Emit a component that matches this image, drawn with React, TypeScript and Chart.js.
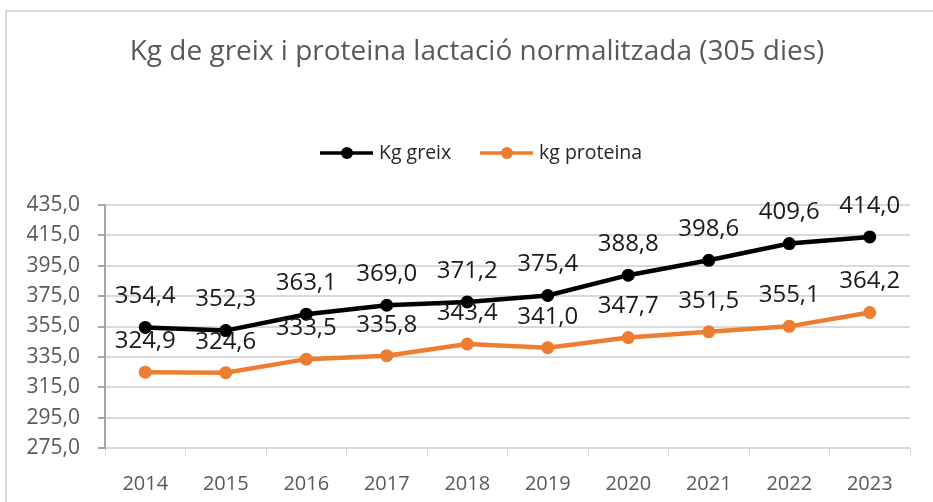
import React, { useEffect, useRef } from "react";
import { Chart, registerables } from "chart.js";

Chart.register(...registerables);

const TITLE = "Kg de greix i proteina lactació normalitzada (305 dies)";
const YEARS = ["2014", "2015", "2016", "2017", "2018", "2019", "2020", "2021", "2022", "2023"];
const GREIX = [354.4, 352.3, 363.1, 369.0, 371.2, 375.4, 388.8, 398.6, 409.6, 414.0];
const PROTEINA = [324.9, 324.6, 333.5, 335.8, 343.4, 341.0, 347.7, 351.5, 355.1, 364.2];
const SERIES_NAMES = ["Kg greix", "kg proteina"];
const SERIES_COLORS = ["#000000", "#ED7D31"];
const Y_MIN = 275;
const Y_MAX = 435;
const Y_STEP = 20;

const FONT = "'Open Sans', Lato, sans-serif";
const fmt = (v: number) => v.toFixed(1).replace(".", ",");

const framePlugin = {
  id: "frame",
  beforeDraw(chart: any) {
    const ctx = chart.ctx;
    ctx.save();
    ctx.fillStyle = "#ffffff";
    ctx.fillRect(0, 0, chart.width, chart.height);
    ctx.strokeStyle = "#d9d9d9";
    ctx.lineWidth = 2;
    ctx.beginPath();
    ctx.moveTo(6, chart.height);
    ctx.lineTo(6, 11);
    ctx.lineTo(chart.width, 11);
    ctx.stroke();
    ctx.restore();
  },
};

const labelsPlugin = {
  id: "valueLabels",
  afterDatasetsDraw(chart: any) {
    const ctx = chart.ctx;
    ctx.save();
    ctx.font = `24px ${FONT}`;
    ctx.fillStyle = "#1a1a1a";
    ctx.textAlign = "center";
    ctx.textBaseline = "middle";
    chart.data.datasets.forEach((ds: any, i: number) => {
      const meta = chart.getDatasetMeta(i);
      meta.data.forEach((el: any, j: number) => {
        ctx.fillText(fmt(ds.data[j]), el.x, el.y - 31);
      });
    });
    ctx.restore();
  },
};

const legendPlugin = {
  id: "customLegend",
  afterDraw(chart: any) {
    const ctx = chart.ctx;
    ctx.save();
    ctx.font = `19.5px ${FONT}`;
    ctx.textBaseline = "middle";
    ctx.textAlign = "left";
    const y = 153;
    const starts = [320, 480];
    SERIES_NAMES.forEach((name, i) => {
      const x0 = starts[i];
      ctx.strokeStyle = SERIES_COLORS[i];
      ctx.lineWidth = 3.5;
      ctx.beginPath();
      ctx.moveTo(x0, y);
      ctx.lineTo(x0 + 53, y);
      ctx.stroke();
      ctx.fillStyle = SERIES_COLORS[i];
      ctx.beginPath();
      ctx.arc(x0 + 27, y, 6, 0, Math.PI * 2);
      ctx.fill();
      ctx.fillStyle = "#262626";
      ctx.fillText(name, x0 + 59, y);
    });
    ctx.restore();
  },
};

export default function App() {
  const ref = useRef<HTMLCanvasElement | null>(null);
  useEffect(() => {
    if (!ref.current) return;
    const chart = new Chart(ref.current, {
      type: "line",
      data: {
        labels: YEARS,
        datasets: [
          {
            label: SERIES_NAMES[0],
            data: GREIX,
            borderColor: SERIES_COLORS[0],
            backgroundColor: SERIES_COLORS[0],
            borderWidth: 4.5,
            pointRadius: 6.5,
            pointHoverRadius: 6.5,
            pointBorderWidth: 0,
            tension: 0,
          },
          {
            label: SERIES_NAMES[1],
            data: PROTEINA,
            borderColor: SERIES_COLORS[1],
            backgroundColor: SERIES_COLORS[1],
            borderWidth: 4.5,
            pointRadius: 6.5,
            pointHoverRadius: 6.5,
            pointBorderWidth: 0,
            tension: 0,
          },
        ],
      },
      options: {
        responsive: false,
        animation: false,
        layout: { padding: { left: 21, right: 0, top: 0, bottom: 0 } },
        plugins: {
          legend: { display: false },
          tooltip: { enabled: false },
          title: {
            display: true,
            text: TITLE,
            color: "#595959",
            font: { family: FONT, size: 28, weight: "normal" },
            padding: { top: 35.2, bottom: 136.2 },
          },
        },
        scales: {
          x: {
            offset: true,
            grid: {
              offset: true,
              drawOnChartArea: false,
              drawTicks: true,
              tickLength: 8,
              color: "#d9d9d9",
              tickColor: "#d9d9d9",
            },
            border: { display: false },
            ticks: {
              color: "#595959",
              font: { family: FONT, size: 20 },
              padding: 16,
              maxRotation: 0,
            },
            afterFit(scale: any) {
              scale.height = 54;
            },
          },
          y: {
            min: Y_MIN,
            max: Y_MAX,
            grid: {
              color: "#d9d9d9",
              lineWidth: 2,
              tickLength: 7,
              tickColor: "#a6a6a6",
            },
            border: { display: true, color: "#a6a6a6", width: 2 },
            ticks: {
              stepSize: Y_STEP,
              color: "#595959",
              font: { family: FONT, size: 21 },
              padding: 18,
              callback: (v: any) => fmt(Number(v)),
            },
            afterFit(scale: any) {
              scale.width = 84;
            },
          },
          yRightSpace: {
            position: "right",
            display: true,
            grid: { display: false, drawOnChartArea: false, drawTicks: false },
            border: { display: false },
            ticks: { display: false },
            afterFit(scale: any) {
              scale.width = 23;
            },
          },
        },
      },
      plugins: [framePlugin, labelsPlugin, legendPlugin],
    });
    return () => chart.destroy();
  }, []);
  return (
    <div style={{ position: "absolute", left: 0, top: 0, width: 933, height: 502 }}>
      <canvas ref={ref} width={933} height={502} style={{ display: "block" }} />
    </div>
  );
}
